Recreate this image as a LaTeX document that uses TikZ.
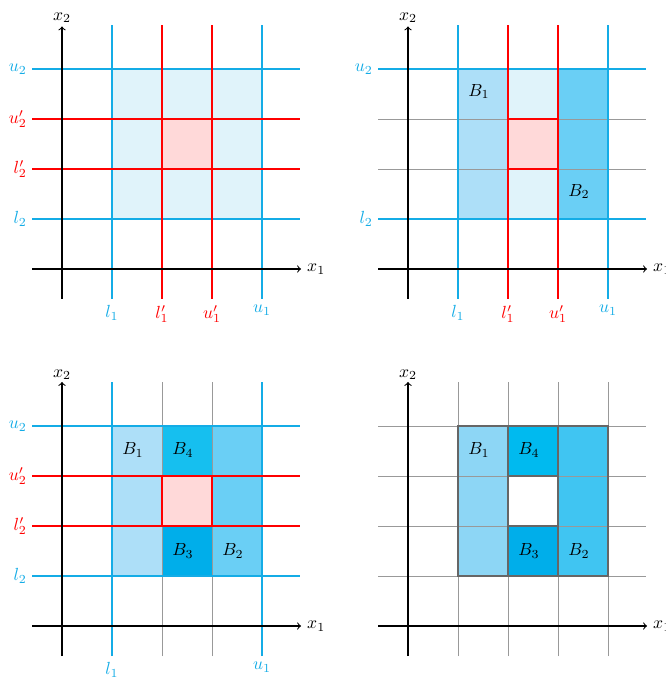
\documentclass[tikz,border=0pt]{standalone}
\definecolor{bline}{RGB}{20,172,230}
\definecolor{boxfill}{RGB}{224,243,250}
\definecolor{pinkfill}{RGB}{255,217,217}
\definecolor{bone}{RGB}{173,223,248}
\definecolor{btwo}{RGB}{106,207,245}
\definecolor{bthree}{RGB}{0,174,234}
\definecolor{bfour}{RGB}{22,191,239}
\definecolor{bonefin}{RGB}{141,214,245}
\definecolor{btwofin}{RGB}{64,197,242}
\definecolor{bfourfin}{RGB}{0,186,239}
\tikzset{
  blueline/.style={bline,line width=.65pt},
  redline/.style={red,line width=.65pt},
  greyline/.style={black!40,line width=.55pt},
  axisline/.style={black,line width=.6pt,->},
  celledge/.style={draw=black!60,line width=.6pt},
  bluelab/.style={text=bline},
  redlab/.style={text=red}
}
\begin{document}
\begin{tikzpicture}[font=\normalsize]
\useasboundingbox (-1.24,-8.22) rectangle (12.06,5.38);
% first panel
\begin{scope}
\path[fill=boxfill] (1,1) rectangle (4,4);
\path[fill=pinkfill] (2,2) rectangle (3,3);
\draw[blueline] (1,-.6) -- (1,4.88);
\draw[blueline] (4,-.6) -- (4,4.88);
\draw[blueline] (-.6,1) -- (4.75,1);
\draw[blueline] (-.6,4) -- (4.75,4);
\draw[redline] (2,-.6) -- (2,4.88);
\draw[redline] (3,-.6) -- (3,4.88);
\draw[redline] (-.6,2) -- (4.75,2);
\draw[redline] (-.6,3) -- (4.75,3);
\draw[axisline] (-.6,0) -- (4.78,0);
\draw[axisline] (0,-.6) -- (0,4.85);
\node[anchor=west] (xa1) at (4.78,0) {$x_1$};
\node[anchor=south,inner sep=1pt] (xa2) at (0,4.88) {$x_2$};
\node[anchor=east,bluelab] (ua2) at (-.58,4) {$u_2$};
\node[anchor=east,redlab] (uua2) at (-.58,3) {$u_2'$};
\node[anchor=east,redlab] (lla2) at (-.58,2) {$l_2'$};
\node[anchor=east,bluelab] (la2) at (-.58,1) {$l_2$};
\node[anchor=north,bluelab] (la1) at (1,-.6) {$l_1$};
\node[anchor=north,redlab] (lla1) at (2,-.6) {$l_1'$};
\node[anchor=north,redlab] (uua1) at (3,-.6) {$u_1'$};
\node[anchor=north,bluelab] (ua1) at (4,-.6) {$u_1$};
\end{scope}
% second panel
\begin{scope}[shift={(6.92,0)}]
\path[fill=bone] (1,1) rectangle (2,4);
\path[fill=boxfill] (2,1) rectangle (3,4);
\path[fill=pinkfill] (2,2) rectangle (3,3);
\path[fill=btwo] (3,1) rectangle (4,4);
\draw[greyline] (-.6,2) -- (4.75,2);
\draw[greyline] (-.6,3) -- (4.75,3);
\draw[blueline] (1,-.6) -- (1,4.88);
\draw[blueline] (4,-.6) -- (4,4.88);
\draw[blueline] (-.6,1) -- (4.75,1);
\draw[blueline] (-.6,4) -- (4.75,4);
\draw[redline] (2,-.6) -- (2,4.88);
\draw[redline] (3,-.6) -- (3,4.88);
\draw[redline] (2,2) rectangle (3,3);
\draw[axisline] (-.6,0) -- (4.78,0);
\draw[axisline] (0,-.6) -- (0,4.85);
\node (bb1) at (1.42,3.55) {$B_1$};
\node (bb2) at (3.42,1.55) {$B_2$};
\node[anchor=west] (xb1) at (4.78,0) {$x_1$};
\node[anchor=south,inner sep=1pt] (xb2) at (0,4.88) {$x_2$};
\node[anchor=east,bluelab] (ub2) at (-.58,4) {$u_2$};
\node[anchor=east,bluelab] (lb2) at (-.58,1) {$l_2$};
\node[anchor=north,bluelab] (lb1) at (1,-.6) {$l_1$};
\node[anchor=north,redlab] (llb1) at (2,-.6) {$l_1'$};
\node[anchor=north,redlab] (uub1) at (3,-.6) {$u_1'$};
\node[anchor=north,bluelab] (ub1) at (4,-.6) {$u_1$};
\end{scope}
% third panel
\begin{scope}[shift={(0,-7.14)}]
\path[fill=bone] (1,1) rectangle (2,4);
\path[fill=bfour] (2,3) rectangle (3,4);
\path[fill=pinkfill] (2,2) rectangle (3,3);
\path[fill=bthree] (2,1) rectangle (3,2);
\path[fill=btwo] (3,1) rectangle (4,4);
\draw[greyline] (2,-.6) -- (2,4.88);
\draw[greyline] (3,-.6) -- (3,4.88);
\draw[blueline] (1,-.6) -- (1,4.88);
\draw[blueline] (4,-.6) -- (4,4.88);
\draw[blueline] (-.6,1) -- (4.75,1);
\draw[blueline] (-.6,4) -- (4.75,4);
\draw[redline] (-.6,2) -- (4.75,2);
\draw[redline] (-.6,3) -- (4.75,3);
\draw[redline] (2,2) rectangle (3,3);
\draw[axisline] (-.6,0) -- (4.78,0);
\draw[axisline] (0,-.6) -- (0,4.88);
\node (cb1) at (1.42,3.52) {$B_1$};
\node (cb4) at (2.42,3.52) {$B_4$};
\node (cb3) at (2.42,1.5) {$B_3$};
\node (cb2) at (3.42,1.5) {$B_2$};
\node[anchor=west] (xc1) at (4.78,0) {$x_1$};
\node[anchor=south,inner sep=1pt] (xc2) at (0,4.88) {$x_2$};
\node[anchor=east,bluelab] (uc2) at (-.58,4) {$u_2$};
\node[anchor=east,redlab] (uuc2) at (-.58,3) {$u_2'$};
\node[anchor=east,redlab] (llc2) at (-.58,2) {$l_2'$};
\node[anchor=east,bluelab] (lc2) at (-.58,1) {$l_2$};
\node[anchor=north,bluelab] (lc1) at (1,-.6) {$l_1$};
\node[anchor=north,bluelab] (uc1) at (4,-.6) {$u_1$};
\end{scope}
% fourth panel
\begin{scope}[shift={(6.92,-7.14)}]
\path[fill=bonefin] (1,1) rectangle (2,4);
\path[fill=bfourfin] (2,3) rectangle (3,4);
\path[fill=bthree] (2,1) rectangle (3,2);
\path[fill=btwofin] (3,1) rectangle (4,4);
\draw[greyline] (1,-.6) -- (1,4.88);
\draw[greyline] (2,-.6) -- (2,4.88);
\draw[greyline] (3,-.6) -- (3,4.88);
\draw[greyline] (4,-.6) -- (4,4.88);
\draw[greyline] (-.6,1) -- (4.75,1);
\draw[greyline] (-.6,2) -- (4.75,2);
\draw[greyline] (-.6,3) -- (4.75,3);
\draw[greyline] (-.6,4) -- (4.75,4);
\draw[celledge] (1,1) rectangle (2,4);
\draw[celledge] (2,3) rectangle (3,4);
\draw[celledge] (2,1) rectangle (3,2);
\draw[celledge] (3,1) rectangle (4,4);
\draw[axisline] (-.6,0) -- (4.78,0);
\draw[axisline] (0,-.6) -- (0,4.88);
\node (db1) at (1.42,3.52) {$B_1$};
\node (db4) at (2.42,3.52) {$B_4$};
\node (db3) at (2.42,1.5) {$B_3$};
\node (db2) at (3.42,1.5) {$B_2$};
\node[anchor=west] (xd1) at (4.78,0) {$x_1$};
\node[anchor=south,inner sep=1pt] (xd2) at (0,4.88) {$x_2$};
\end{scope}
\end{tikzpicture}
\end{document}
